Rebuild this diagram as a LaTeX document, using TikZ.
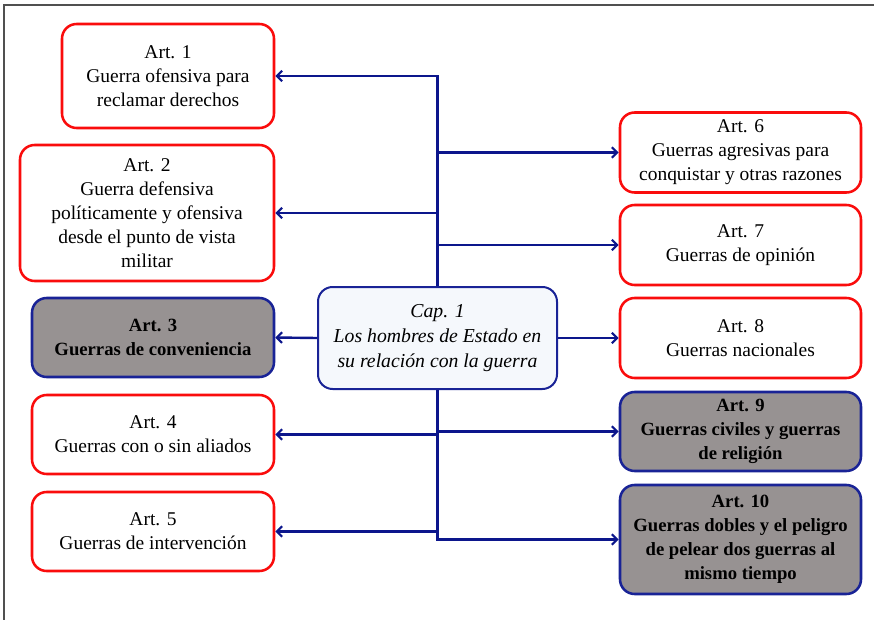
\documentclass[tikz,border=0pt]{standalone}
\usepackage{fontspec}
\setmainfont{Liberation Serif}
\usetikzlibrary{arrows.meta}
\definecolor{navy}{RGB}{12,22,140}
\definecolor{boxred}{RGB}{250,12,12}
\definecolor{boxgray}{RGB}{151,146,146}
\definecolor{boxblue}{RGB}{25,35,150}
\definecolor{centerfill}{RGB}{245,248,252}
\definecolor{framec}{RGB}{80,80,80}
\tikzset{
  base/.style={rounded corners=11pt, line width=1.9pt, align=center, inner sep=0pt,
    font=\fontsize{14.6}{18}\selectfont},
  redbox/.style={base, draw=boxred, fill=white},
  graybox/.style={base, draw=boxblue, fill=boxgray, font=\fontsize{14}{18}\selectfont\bfseries},
  centerbox/.style={base, draw=boxblue, fill=centerfill, line width=1.5pt, font=\fontsize{14.8}{19}\selectfont\itshape},
  arr/.style={draw=navy, line width=1.8pt, -{Straight Barb[length=4pt,width=8pt,line width=1.6pt]}}
}
\begin{document}
\begin{tikzpicture}[x=0.75pt,y=-0.75pt]
\useasboundingbox (0,0) rectangle (874,620);
\fill[white] (0,0) rectangle (874,620);
\draw[framec, line width=1pt] (4,620) -- (4,5) -- (874,5);

\node[redbox, minimum width=159pt, minimum height=78pt] (a1) at (168,76) {Art. 1\\Guerra ofensiva para\\reclamar derechos};
\node[redbox, minimum width=190.5pt, minimum height=102pt] (a2) at (147,213) {Art. 2\\Guerra defensiva\\políticamente y ofensiva\\desde el punto de vista\\militar};
\node[graybox, minimum width=181.5pt, minimum height=59.25pt] (a3) at (153,337.5) {Art. 3\\Guerras de conveniencia};
\node[redbox, minimum width=181.5pt, minimum height=59.25pt] (a4) at (153,434.5) {Art. 4\\Guerras con o sin aliados};
\node[redbox, minimum width=181.5pt, minimum height=59.25pt] (a5) at (153,531.5) {Art. 5\\Guerras de intervención};

\node[centerbox, minimum width=179.25pt, minimum height=76.5pt] (c) at (437.5,338) {Cap. 1\\Los hombres de Estado en\\su relación con la guerra};

\node[redbox, minimum width=180.75pt, minimum height=60pt] (a6) at (740.5,152.5) {Art. 6\\Guerras agresivas para\\conquistar y otras razones};
\node[redbox, minimum width=180.75pt, minimum height=60pt] (a7) at (740.5,245) {Art. 7\\Guerras de opinión};
\node[redbox, minimum width=180.75pt, minimum height=60pt] (a8) at (740.5,338) {Art. 8\\Guerras nacionales};
\node[graybox, minimum width=180.75pt, minimum height=59.25pt] (a9) at (740.5,431.5) {Art. 9\\Guerras civiles y guerras\\de religión};
\node[graybox, minimum width=180.75pt, minimum height=81.75pt] (a10) at (740.5,539.5) {Art. 10\\Guerras dobles y el peligro\\de pelear dos guerras al\\mismo tiempo};

% upper trunk
\draw[arr] (c.north) |- (a1.east);
\draw[arr] (c.north |- a2.east) -- (a2.east);
\draw[arr] (c.north |- a6.west) -- (a6.west);
\draw[arr] (c.north |- a7.west) -- (a7.west);
% sides
\draw[arr] (c.west) -- (a3.east);
\draw[arr] (c.east) -- (a8.west);
% lower trunk
\draw[arr] (c.south) |- (a10.west);
\draw[arr] (c.south |- a4.east) -- (a4.east);
\draw[arr] (c.south |- a5.east) -- (a5.east);
\draw[arr] (c.south |- a9.west) -- (a9.west);
\end{tikzpicture}
\end{document}
